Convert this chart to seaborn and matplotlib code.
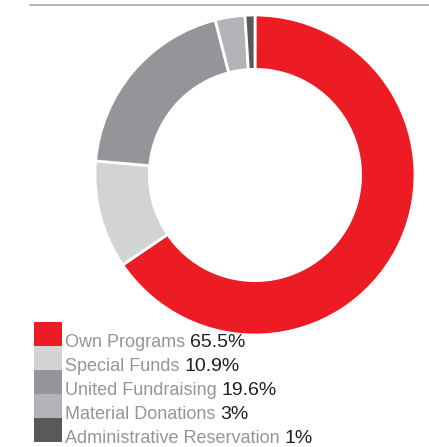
import matplotlib.pyplot as plt
import seaborn as sns

categories = ['Own Programs', 'Special Funds', 'United Fundraising',
              'Material Donations', 'Administrative Reservation']
shares = [65.5, 10.9, 19.6, 3, 1]
share_labels = ['65.5%', '10.9%', '19.6%', '3%', '1%']
colors = ['#ED1C24', '#D1D3D4', '#939598', '#B1B3B6', '#58595B']

sns.set_theme(style='white')
plt.rcParams['font.family'] = ['Liberation Sans', 'DejaVu Sans']

W, H = 429, 447
fig = plt.figure(figsize=(W / 100, H / 100), dpi=100, facecolor='white')

# donut, clockwise from 12 o'clock
ax = fig.add_axes([95 / W, 112 / H, 320 / W, 320 / H])
ax.pie(shares, colors=colors, startangle=90, counterclock=False, radius=1,
       wedgeprops=dict(width=0.34, edgecolor='white', linewidth=2))
ax.set_xlim(-1.0, 1.0)
ax.set_ylim(-1.0, 1.0)
ax.set_aspect('equal')
ax.axis('off')

# top rule
fig.add_artist(plt.Line2D([30 / W, 1], [1 - 5 / H, 1 - 5 / H],
                          color='#A7A9AC', linewidth=1.2))

# legend: stacked swatches with two-tone labels
renderer = fig.canvas.get_renderer()
top = 322
step = 24
for i, (cat, lab, col) in enumerate(zip(categories, share_labels, colors)):
    y0 = top + i * step
    fig.add_artist(plt.Rectangle((34 / W, 1 - (y0 + step) / H), 28 / W, step / H,
                                 facecolor=col, edgecolor='none'))
    base = 1 - (y0 + 25) / H
    t = fig.text(65 / W, base, cat + ' ', color='#939598',
                 fontsize=13, va='baseline', ha='left')
    bb = t.get_window_extent(renderer)
    fig.text(bb.x1 / W, base, lab, color='#231F20', fontsize=14,
             va='baseline', ha='left')

fig.savefig('out.png', dpi=100, facecolor='white')
